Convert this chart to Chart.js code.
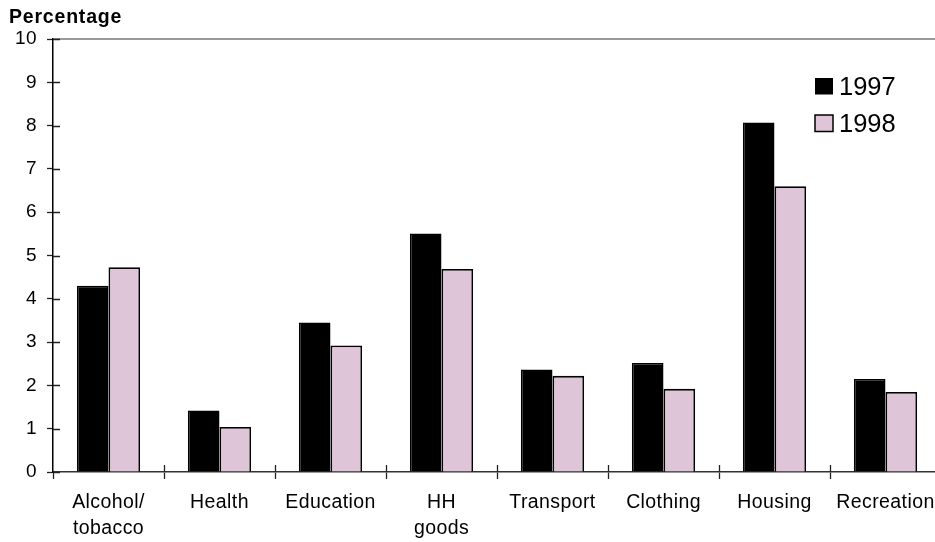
<!DOCTYPE html>
<html>
<head>
<meta charset="utf-8">
<script src="https://cdn.jsdelivr.net/npm/chart.js@4"></script>
<style>
  html, body { margin: 0; padding: 0; background: #fff; overflow: hidden; }
  #wrap { width: 945px; height: 542px; }
</style>
</head>
<body>
<div id="wrap"><canvas id="spendChart" width="945" height="542"></canvas></div>
<script>
// Spending growth by category
const categories = [['Alcohol/', 'tobacco'], 'Health', 'Education', ['HH', 'goods'], 'Transport', 'Clothing', 'Housing', 'Recreation'];
const years = ['1997', '1998'];
const values1997 = [4.30, 1.42, 3.45, 5.51, 2.37, 2.52, 8.07, 2.15];
const values1998 = [4.73, 1.04, 2.92, 4.69, 2.22, 1.92, 6.60, 1.85];
const yTicks = [0, 1, 2, 3, 4, 5, 6, 7, 8, 9, 10];

const FONT = '"Liberation Sans", Arial, Helvetica, sans-serif';

// slight letter spacing for the axis text, plus inner tick halves, top line, title and legend
const decorations = {
    id: 'decorations',
    beforeDraw(chart) {
        chart.ctx.letterSpacing = '0.4px';
    },
    afterDraw(chart) {
        const ctx = chart.ctx;
        const x = chart.scales.x;
        const y = chart.scales.y;
        const area = chart.chartArea;
        ctx.save();
        ctx.letterSpacing = '0px';

        // top line
        ctx.strokeStyle = '#777';
        ctx.lineWidth = 1.5;
        ctx.beginPath();
        ctx.moveTo(area.left, y.getPixelForValue(10));
        ctx.lineTo(area.right, y.getPixelForValue(10));
        ctx.stroke();

        // tick marks crossing the axes
        ctx.strokeStyle = '#222';
        ctx.lineWidth = 1.3;
        ctx.beginPath();
        yTicks.forEach(v => {
            const py = Math.round(y.getPixelForValue(v)) + 0.5;
            ctx.moveTo(area.left, py);
            ctx.lineTo(area.left + 7, py);
        });
        for (let i = 1; i < categories.length; i++) {
            const px = Math.round((x.getPixelForTick(i - 1) + x.getPixelForTick(i)) / 2) + 0.5;
            ctx.moveTo(px, area.bottom);
            ctx.lineTo(px, area.bottom - 7);
        }
        ctx.stroke();

        // axis title
        ctx.fillStyle = '#000';
        ctx.font = 'bold 19.5px ' + FONT;
        ctx.letterSpacing = '0.8px';
        ctx.textAlign = 'left';
        ctx.textBaseline = 'alphabetic';
        ctx.fillText('Percentage', 9, 23);

        // legend
        ctx.letterSpacing = '0px';
        ctx.font = '25.5px ' + FONT;
        chart.data.datasets.forEach((ds, i) => {
            const top = 78 + i * 37;
            ctx.fillStyle = ds.backgroundColor;
            ctx.fillRect(815, top, 18, 16.5);
            if (i > 0) {
                ctx.strokeStyle = '#000';
                ctx.lineWidth = 1.5;
                ctx.strokeRect(815, top, 18, 16.5);
            }
            ctx.fillStyle = '#000';
            ctx.fillText(ds.label, 839, top + 16.5);
        });
        ctx.restore();
    }
};

const ctx = document.getElementById('spendChart').getContext('2d');
new Chart(ctx, {
    type: 'bar',
    data: {
        labels: categories,
        datasets: [
            {
                label: years[0],
                data: values1997,
                backgroundColor: '#000000',
                borderColor: '#000000',
                borderWidth: 1.5
            },
            {
                label: years[1],
                data: values1998,
                backgroundColor: '#dfc5d8',
                borderColor: '#000000',
                borderWidth: 1.8
            }
        ]
    },
    options: {
        responsive: false,
        animation: false,
        layout: { padding: { top: 39, right: 4, left: 0, bottom: 0 } },
        datasets: {
            bar: { categoryPercentage: 0.57, barPercentage: 1.0 }
        },
        plugins: {
            legend: { display: false },
            tooltip: { enabled: false }
        },
        scales: {
            x: {
                grid: {
                    drawOnChartArea: false,
                    tickLength: 7,
                    tickColor: '#222',
                    tickWidth: 1.3
                },
                border: { color: '#333', width: 1.5 },
                ticks: {
                    color: '#000',
                    padding: 11,
                    maxRotation: 0,
                    autoSkip: false,
                    font: { family: FONT, size: 19.5, lineHeight: '26px' }
                },
                afterFit(scale) { scale.height = 70; }
            },
            y: {
                min: 0,
                max: 10,
                afterBuildTicks(scale) { scale.ticks = yTicks.map(v => ({ value: v })); },
                grid: {
                    drawOnChartArea: false,
                    tickLength: 6,
                    tickColor: '#222',
                    tickWidth: 1.3
                },
                border: { color: '#000', width: 1.5 },
                ticks: {
                    color: '#000',
                    padding: 10,
                    font: { family: FONT, size: 19 }
                },
                afterFit(scale) { scale.width = 53; }
            }
        }
    },
    plugins: [decorations]
});
</script>
</body>
</html>
